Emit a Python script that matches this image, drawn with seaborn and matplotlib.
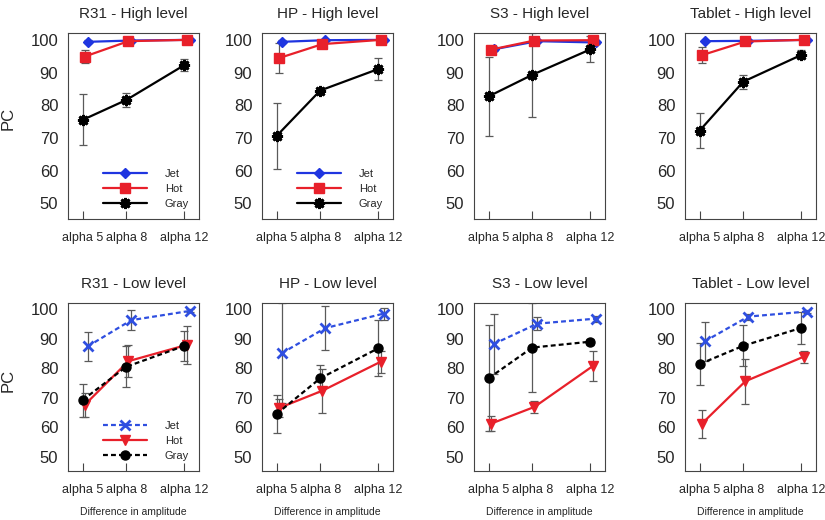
import numpy as np
import pandas as pd
import matplotlib.pyplot as plt
import seaborn as sns

# x positions / labels
alphas = [5, 8, 12]
alpha_labels = ['alpha 5', 'alpha 8', 'alpha 12']
devices = ['R31', 'HP', 'S3', 'Tablet']
schemes = ['Jet', 'Hot', 'Gray']

# high level: one row per device (R31, HP, S3, Tablet)
jet_high = [[99.4, 99.8, 100.0], [99.4, 99.9, 100.0], [97.1, 99.6, 99.2], [99.6, 99.7, 100.0]]
jet_high_err = [[0.5, 0.3, 0.2], [0.5, 0.3, 0.2], [0.6, 0.4, 0.5], [0.4, 0.3, 0.2]]
hot_high = [[94.9, 99.6, 100.0], [94.4, 98.7, 100.0], [97.0, 99.8, 99.9], [95.3, 99.5, 100.0]]
hot_high_err = [[2.0, 0.5, 0.3], [4.6, 1.0, 0.3], [0.8, 0.5, 1.2], [2.5, 0.6, 0.3]]
gray_high = [[75.5, 81.6, 92.3], [70.6, 84.5, 91.1], [82.7, 89.3, 97.1], [72.2, 87.2, 95.4]]
gray_high_err = [[7.8, 2.0, 1.8], [10.0, 0.8, 3.5], [12.0, 12.8, 4.0], [5.4, 2.2, 1.4]]

# low level
jet_low = [[87.4, 96.3, 99.4], [85.1, 93.6, 98.5], [88.2, 95.1, 96.8], [89.1, 97.5, 99.2]]
jet_low_err = [[5.0, 3.5, 0.5], [17.0, 7.5, 2.0], [10.2, 2.3, 1.0], [6.5, 1.0, 0.5]]
hot_low = [[67.6, 82.4, 87.9], [66.5, 72.4, 82.2], [61.2, 66.9, 80.7], [61.2, 75.6, 83.9]]
hot_low_err = [[4.0, 5.5, 6.5], [3.0, 7.5, 3.7], [2.5, 2.0, 5.0], [4.7, 7.7, 2.0]]
gray_low = [[69.2, 80.5, 87.6], [64.5, 76.6, 86.8], [76.6, 87.0, 89.0], [81.4, 87.6, 93.7]]
gray_low_err = [[5.6, 7.0, 5.0], [6.5, 4.5, 9.5], [18.0, 15.0, 1.0], [7.0, 7.0, 5.5]]

# long table for seaborn
rows = []
series = {
    ('High', 'Jet'): (jet_high, jet_high_err), ('High', 'Hot'): (hot_high, hot_high_err),
    ('High', 'Gray'): (gray_high, gray_high_err),
    ('Low', 'Jet'): (jet_low, jet_low_err), ('Low', 'Hot'): (hot_low, hot_low_err),
    ('Low', 'Gray'): (gray_low, gray_low_err),
}
for (level, scheme), (vals, errs) in series.items():
    for d, dev in enumerate(devices):
        for k, a in enumerate(alphas):
            rows.append({'level': level, 'scheme': scheme, 'device': dev, 'alpha': a,
                         'pc': vals[d][k], 'err': errs[d][k]})
df = pd.DataFrame(rows)

# styles
offset = {'Jet': 0.35, 'Hot': 0.15, 'Gray': 0.0}
style = {
    'High': {
        'Jet': dict(color='#1f35e0', marker='D', markersize=5, linestyle='-', mew=1),
        'Hot': dict(color='#e8202a', marker='s', markersize=6.5, linestyle='-', mew=1),
        'Gray': dict(color='black', marker=(8, 2, 0), markersize=8, linestyle='-', mew=2),
    },
    'Low': {
        'Jet': dict(color='#2f4fe0', marker='x', markersize=6.5, linestyle=(0, (2.2, 1.4)), mew=2),
        'Hot': dict(color='#e8202a', marker='v', markersize=6.5, linestyle='-', mew=1),
        'Gray': dict(color='black', marker='o', markersize=6.5, linestyle=(0, (2.2, 1.4)), mew=1),
    },
}

sns.set_style('white')
plt.rcParams['font.family'] = ['Liberation Sans', 'DejaVu Sans']

fig = plt.figure(figsize=(8.25, 5.2), dpi=100)
lefts = [68, 262, 474, 685]
W, H = 825, 520
boxes = {'High': (33, 219), 'Low': (303, 471)}
legend_on = {('High', 'R31'), ('High', 'HP'), ('Low', 'R31')}

for level in ['High', 'Low']:
    top, bot = boxes[level]
    for d, dev in enumerate(devices):
        ax = fig.add_axes([lefts[d] / W, 1 - bot / H, 131 / W, (bot - top) / H])
        for scheme in schemes:
            sub = df[(df.level == level) & (df.device == dev) & (df.scheme == scheme)].copy()
            sub['x'] = sub['alpha'] + offset[scheme]
            st = style[level][scheme]
            ax.errorbar(sub['x'], sub['pc'], yerr=sub['err'], fmt='none', ecolor='#5a5a5a',
                        elinewidth=0.9, capsize=2.6, capthick=0.9, zorder=1.5)
            sns.lineplot(data=sub, x='x', y='pc', ax=ax, color=st['color'], marker=st['marker'],
                         markersize=st['markersize'], linestyle=st['linestyle'], linewidth=1.6,
                         mec=st['color'], mfc=st['color'], mew=st['mew'], errorbar=None,
                         label=scheme, legend=False, zorder=2)
        ax.set_xlim(4.0, 13.0)
        ax.set_ylim(45.2, 102.1)
        ax.set_xticks(alphas)
        ax.set_xticklabels(alpha_labels, fontsize=9)
        ax.set_yticks([50, 60, 70, 80, 90, 100])
        ax.tick_params(axis='y', labelsize=12, length=0, pad=7)
        ax.tick_params(axis='x', direction='in', length=6, width=0.8, color='#444444', pad=9,
                       bottom=True)
        for sp in ax.spines.values():
            sp.set_color('#444444')
            sp.set_linewidth(0.8)
        ax.set_title(f'{dev} - {level} level', fontsize=11, pad=11)
        ax.set_ylabel('')
        if d == 0:
            ax.set_ylabel('PC', fontsize=12)
            ax.yaxis.set_label_coords(-0.40, 0.54)
        if level == 'Low':
            ax.set_xlabel('Difference in amplitude', fontsize=7.5)
            ax.xaxis.set_label_coords(0.5, -0.215)
        else:
            ax.set_xlabel('')
        if (level, dev) in legend_on:
            ax.legend(loc='lower right', frameon=False, fontsize=8, numpoints=1,
                      handlelength=4, handletextpad=1.6, labelspacing=0.45,
                      borderaxespad=0.5)

fig.savefig('out.png', dpi=100)
